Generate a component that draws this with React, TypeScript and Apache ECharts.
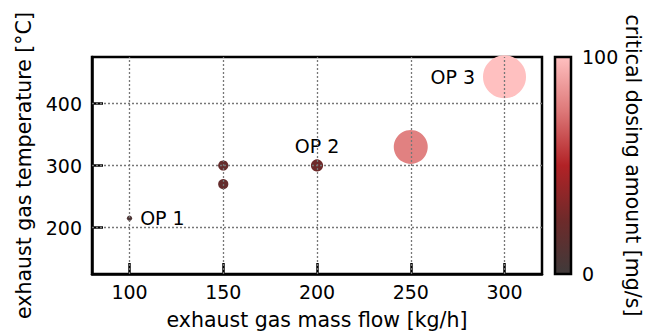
import React, { useEffect, useRef } from "react";
import * as echarts from "echarts";

const massFlow = [100, 150, 150, 200, 250, 300];
const temperature = [215, 300, 270, 300, 330, 443];
const dosing = [8, 20, 20, 25, 78, 100];
const pointLabels = ["OP 1", "", "", "OP 2", "", "OP 3"];
const labelPositions = ["right", "top", "top", "top", "top", "left"];
const xTicks = [100, 150, 200, 250, 300];
const yTicks = [200, 300, 400];
const colorbarTicks = ["100", "0"];
const colorStops = ["#3f3a3a", "#6e2a2a", "#b22226", "#dd7878", "#ffc0c0"];

const FONT = "DejaVu Sans";
const TICK_FS = 19;
const NAME_FS = 20.5;

export default function App() {
  const ref = useRef<HTMLDivElement>(null);
  useEffect(() => {
    const chart = echarts.init(ref.current!, null, { renderer: "svg" });
    const gridL = 92, gridR = 542, gridT = 57, gridB = 274;
    const cbX = 555, cbW = 16;
    const data = massFlow.map((x, i) => ({
      value: [x, temperature[i], dosing[i]],
      label: {
        show: pointLabels[i] !== "",
        formatter: pointLabels[i],
        position: labelPositions[i],
        distance: labelPositions[i] === "top" ? 4 : 8,
        color: "#000",
        fontSize: TICK_FS,
        fontFamily: FONT,
      },
    }));
    const gridLines = [
      ...xTicks.map((v) => ({ xAxis: v })),
      ...yTicks.map((v) => ({ yAxis: v })),
    ];
    chart.setOption({
      animation: false,
      textStyle: { fontFamily: FONT },
      grid: {
        left: gridL,
        right: 660 - gridR,
        top: gridT,
        bottom: 331 - gridB,
        containLabel: false,
        outerBoundsMode: "none",
        show: true,
        borderColor: "#000",
        borderWidth: 2.5,
        backgroundColor: "transparent",
      },
      xAxis: {
        type: "value",
        min: 80,
        max: 320,
        name: "exhaust gas mass flow [kg/h]",
        nameLocation: "middle",
        nameGap: 35,
        nameTextStyle: { fontSize: NAME_FS, color: "#000", fontFamily: FONT },
        axisLine: { show: true, lineStyle: { color: "#000", width: 2.5 } },
        axisTick: { show: true, inside: true, length: 11, customValues: xTicks, lineStyle: { color: "#000", width: 2.5 } },
        axisLabel: { customValues: xTicks, fontSize: TICK_FS, color: "#000", margin: 8, fontFamily: FONT },
        splitLine: { show: false },
      },
      yAxis: {
        type: "value",
        min: 125,
        max: 475,
        name: "exhaust gas temperature [°C]",
        nameLocation: "middle",
        nameGap: 58,
        nameTextStyle: { fontSize: NAME_FS, color: "#000", fontFamily: FONT },
        axisLine: { show: true, lineStyle: { color: "#000", width: 2.5 } },
        axisTick: { show: true, inside: true, length: 11, customValues: yTicks, lineStyle: { color: "#000", width: 2.5 } },
        axisLabel: { customValues: yTicks, fontSize: TICK_FS, color: "#000", margin: 10, fontFamily: FONT },
        splitLine: { show: false },
      },
      visualMap: {
        show: false,
        type: "continuous",
        dimension: 2,
        min: 0,
        max: 100,
        seriesIndex: 1,
        inRange: { color: colorStops, symbolSize: [2, 43] },
      },
      series: [
        {
          type: "scatter",
          data: [],
          z: 1,
          markLine: {
            silent: true,
            symbol: ["none", "none"],
            label: { show: false },
            lineStyle: { type: [2, 2], color: "#777", width: 1.3 },
            data: gridLines,
          },
        },
        {
          type: "scatter",
          z: 3,
          data,
          itemStyle: { opacity: 1 },
        },
      ],
      graphic: [
        {
          type: "rect",
          shape: { x: cbX, y: gridT, width: cbW, height: gridB - gridT },
          style: {
            fill: new echarts.graphic.LinearGradient(0, 0, 0, 1,
              colorStops.slice().reverse().map((c, i) => ({ offset: i / (colorStops.length - 1), color: c }))),
            stroke: "#000",
            lineWidth: 2.5,
          },
        },
        {
          type: "text",
          x: cbX + cbW + 11,
          y: gridT,
          style: { text: colorbarTicks[0], fontSize: TICK_FS, fontFamily: FONT, fill: "#000", verticalAlign: "middle", align: "left" },
        },
        {
          type: "text",
          x: cbX + cbW + 11,
          y: gridB,
          style: { text: colorbarTicks[1], fontSize: TICK_FS, fontFamily: FONT, fill: "#000", verticalAlign: "middle", align: "left" },
        },
        {
          type: "text",
          x: 633,
          y: (gridT + gridB) / 2,
          rotation: -Math.PI / 2,
          style: { text: "critical dosing amount [mg/s]", fontSize: NAME_FS, fontFamily: FONT, fill: "#000", verticalAlign: "middle", align: "center" },
        },
      ],
    });
    return () => chart.dispose();
  }, []);
  return <div ref={ref} style={{ width: 660, height: 331, position: "absolute", left: 0, top: 0 }} />;
}
